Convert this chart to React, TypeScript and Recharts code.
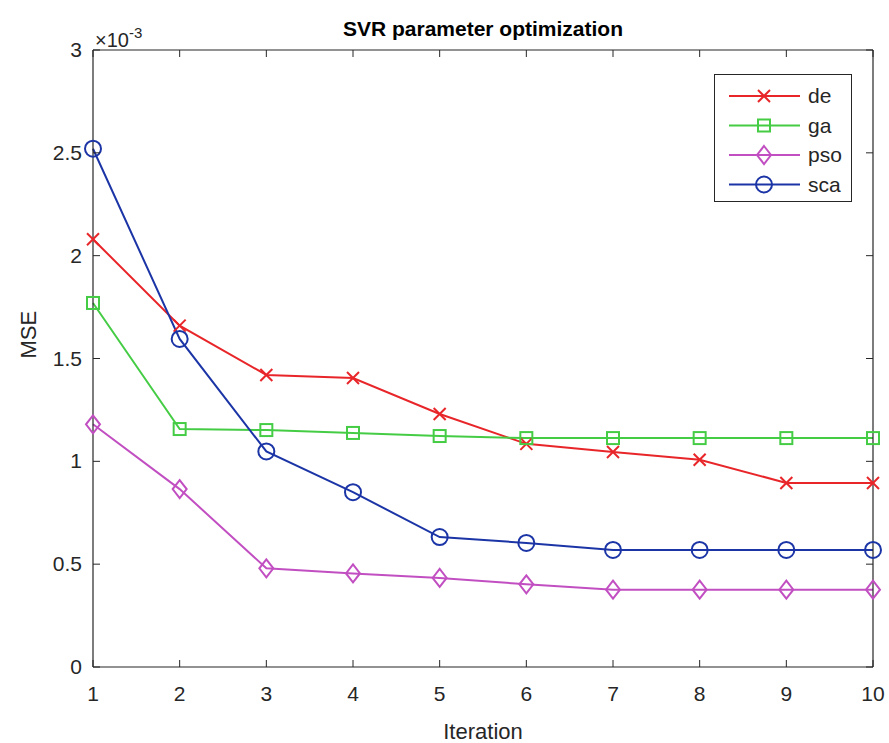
import React from "react"
import { LineChart, Line, XAxis, YAxis } from "recharts"

const iterations = [1, 2, 3, 4, 5, 6, 7, 8, 9, 10]
// MSE values in units of 1e-3
const deValues = [2.08, 1.66, 1.42, 1.405, 1.23, 1.085, 1.045, 1.008, 0.895, 0.895]
const gaValues = [1.77, 1.157, 1.152, 1.138, 1.123, 1.113, 1.113, 1.113, 1.113, 1.113]
const psoValues = [1.18, 0.865, 0.48, 0.455, 0.433, 0.402, 0.376, 0.376, 0.376, 0.376]
const scaValues = [2.52, 1.595, 1.048, 0.85, 0.632, 0.603, 0.569, 0.569, 0.569, 0.569]
const xTicks = [1, 2, 3, 4, 5, 6, 7, 8, 9, 10]
const yTicks = [0, 0.5, 1, 1.5, 2, 2.5, 3]

const data = iterations.map((it, i) => ({
  it,
  de: deValues[i],
  ga: gaValues[i],
  pso: psoValues[i],
  sca: scaValues[i],
}))

const FONT = "'Liberation Sans', Arial, sans-serif"
const TEXT = "#262626"
const AXIS = "#262626"

const series = [
  { key: "de", color: "#e8262a", marker: "x" },
  { key: "ga", color: "#45cc45", marker: "square" },
  { key: "pso", color: "#c24fc2", marker: "diamond" },
  { key: "sca", color: "#1c35a6", marker: "circle" },
]

function Marker({ cx, cy, type, color }: any) {
  if (cx == null || cy == null) return null
  if (type === "x") {
    const s = 6
    return (
      <g stroke={color} strokeWidth={2}>
        <line x1={cx - s} y1={cy - s} x2={cx + s} y2={cy + s} />
        <line x1={cx - s} y1={cy + s} x2={cx + s} y2={cy - s} />
      </g>
    )
  }
  if (type === "square") {
    return <rect x={cx - 6} y={cy - 6} width={12} height={12} fill="none" stroke={color} strokeWidth={2} />
  }
  if (type === "diamond") {
    return (
      <polygon
        points={`${cx},${cy - 9} ${cx + 7},${cy} ${cx},${cy + 9} ${cx - 7},${cy}`}
        fill="none"
        stroke={color}
        strokeWidth={2}
      />
    )
  }
  return <circle cx={cx} cy={cy} r={8} fill="none" stroke={color} strokeWidth={2} />
}

function BottomTick({ x, y, payload }: any) {
  return (
    <g>
      <line x1={x} y1={y} x2={x} y2={y - 7} stroke={AXIS} strokeWidth={1} />
      <text x={x} y={y + 34} textAnchor="middle" fill={TEXT} fontSize={21} fontFamily={FONT}>
        {payload.value}
      </text>
    </g>
  )
}

function TopTick({ x, y }: any) {
  return <line x1={x} y1={y} x2={x} y2={y + 7} stroke={AXIS} strokeWidth={1} />
}

function LeftTick({ x, y, payload }: any) {
  return (
    <g>
      <line x1={x} y1={y} x2={x + 7} y2={y} stroke={AXIS} strokeWidth={1} />
      <text x={x - 11} y={y + 7} textAnchor="end" fill={TEXT} fontSize={21} fontFamily={FONT}>
        {payload.value}
      </text>
    </g>
  )
}

function RightTick({ x, y }: any) {
  return <line x1={x} y1={y} x2={x - 7} y2={y} stroke={AXIS} strokeWidth={1} />
}

function LegendBox() {
  return (
    <svg width={138} height={128} style={{ display: "block" }}>
      <rect x={0.5} y={0.5} width={137} height={127} fill="#fff" stroke={AXIS} strokeWidth={1} />
      {series.map((s, i) => {
        const cy = 22 + i * 29.5
        return (
          <g key={s.key}>
            <line x1={15} y1={cy} x2={86} y2={cy} stroke={s.color} strokeWidth={2} />
            <Marker cx={50} cy={cy} type={s.marker} color={s.color} />
            <text x={94} y={cy + 7} fill={TEXT} fontSize={21} fontFamily={FONT}>
              {s.key}
            </text>
          </g>
        )
      })}
    </svg>
  )
}

export default function App() {
  return (
    <div style={{ position: "relative", width: 881, height: 735, marginLeft: 8, marginTop: 8, background: "#fff", fontFamily: FONT }}>
      <style>{"body{margin:0;overflow:hidden}"}</style>
      <LineChart width={881} height={735} data={data} margin={{ top: 41, right: 15, bottom: 0, left: 0 }}>
        <XAxis
          xAxisId={0}
          dataKey="it"
          type="number"
          domain={[1, 10]}
          ticks={xTicks}
          height={76}
          tickSize={0}
          tickMargin={0}
          tickLine={false}
          axisLine={{ stroke: AXIS, strokeWidth: 1.2 }}
          tick={(p: any) => <BottomTick {...p} />}
          label={{ value: "Iteration", position: "insideBottom", offset: 0, fill: TEXT, fontSize: 22, fontFamily: FONT, dy: -4 }}
        />
        <XAxis
          xAxisId="top"
          orientation="top"
          dataKey="it"
          type="number"
          domain={[1, 10]}
          ticks={xTicks}
          height={1}
          tickSize={0}
          tickMargin={0}
          tickLine={false}
          axisLine={{ stroke: AXIS, strokeWidth: 1.2 }}
          tick={(p: any) => <TopTick {...p} />}
        />
        <YAxis
          yAxisId={0}
          type="number"
          domain={[0, 3]}
          ticks={yTicks}
          width={85}
          tickSize={0}
          tickMargin={0}
          tickLine={false}
          axisLine={{ stroke: AXIS, strokeWidth: 1.2 }}
          tick={(p: any) => <LeftTick {...p} />}
          label={{ value: "MSE", angle: -90, position: "insideLeft", offset: 20, fill: TEXT, fontSize: 22, fontFamily: FONT }}
        />
        <YAxis
          yAxisId="right"
          orientation="right"
          type="number"
          domain={[0, 3]}
          ticks={yTicks}
          width={1}
          tickSize={0}
          tickMargin={0}
          tickLine={false}
          axisLine={{ stroke: AXIS, strokeWidth: 1.2 }}
          tick={(p: any) => <RightTick {...p} />}
        />
        {/* invisible series so the top / right box axes get drawn */}
        <Line
          xAxisId="top"
          yAxisId="right"
          dataKey="de"
          stroke="none"
          dot={false}
          activeDot={false}
          legendType="none"
          isAnimationActive={false}
        />
        {series.map((s) => (
          <Line
            key={s.key}
            xAxisId={0}
            yAxisId={0}
            type="linear"
            dataKey={s.key}
            stroke={s.color}
            strokeWidth={2}
            dot={(p: any) => <Marker key={`${s.key}-${p.index}`} cx={p.cx} cy={p.cy} type={s.marker} color={s.color} />}
            activeDot={false}
            isAnimationActive={false}
          />
        ))}
      </LineChart>
      <div
        style={{
          position: "absolute",
          left: 85,
          width: 780,
          top: 9,
          textAlign: "center",
          fontWeight: "bold",
          fontSize: 21,
          color: "#000",
        }}
      >
        SVR parameter optimization
      </div>
      <div style={{ position: "absolute", left: 87, top: 16, fontSize: 20, color: TEXT }}>
        ×10<sup style={{ fontSize: 15, verticalAlign: 9 }}>-3</sup>
      </div>
      <div style={{ position: "absolute", left: 706, top: 66 }}>
        <LegendBox />
      </div>
    </div>
  )
}
